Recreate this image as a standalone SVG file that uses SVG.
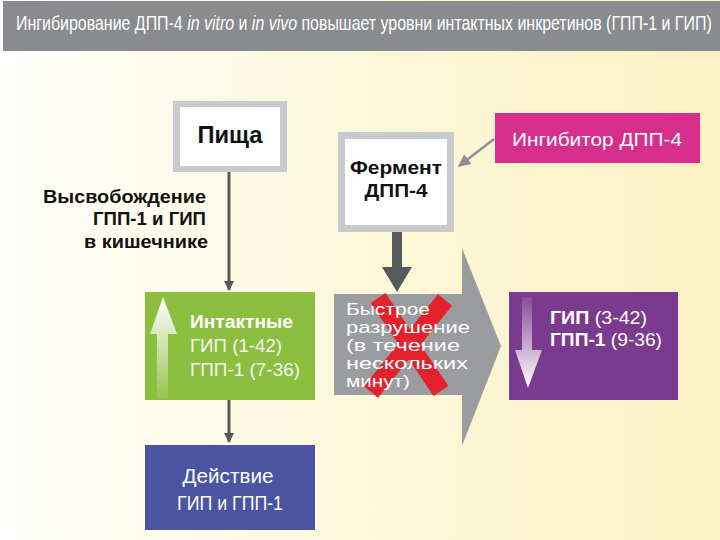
<svg xmlns="http://www.w3.org/2000/svg" width="720" height="540" viewBox="0 0 720 540">
<defs>
<linearGradient id="bg" x1="0" y1="0" x2="1" y2="0">
<stop offset="0" stop-color="#ffffff"/>
<stop offset="0.06" stop-color="#fffef6"/>
<stop offset="0.5" stop-color="#fdf8dc"/>
<stop offset="1" stop-color="#fbf1c2"/>
</linearGradient>
<linearGradient id="upg" x1="0" y1="0" x2="0" y2="1">
<stop offset="0" stop-color="#ffffff" stop-opacity="1"/>
<stop offset="1" stop-color="#ffffff" stop-opacity="0.1"/>
</linearGradient>
<linearGradient id="dng" x1="0" y1="0" x2="0" y2="1">
<stop offset="0" stop-color="#ffffff" stop-opacity="0.1"/>
<stop offset="1" stop-color="#ffffff" stop-opacity="1"/>
</linearGradient>
<marker id="ah" viewBox="0 0 10 10" refX="9" refY="5" markerWidth="3.5" markerHeight="3.5" orient="auto">
<path d="M0,0 L10,5 L0,10 z" fill="#58595b"/>
</marker>
<marker id="ahg" viewBox="0 0 10 10" refX="9" refY="5" markerWidth="5" markerHeight="5" orient="auto">
<path d="M0,0 L10,5 L0,10 z" fill="#8f9094"/>
</marker>
</defs>
<style>
text{font-family:"Liberation Sans",Arial,sans-serif}
.b{font-weight:bold}
.i{font-style:italic}
.w{fill:#ffffff}
.k{fill:#111111}
.lw{fill:#f4f4f4}
.frame{fill:#c9cacd}
.inner{fill:#ffffff}
.h{font-size:20px;fill:#ffffff}
</style>
<rect x="0" y="0" width="720" height="540" fill="url(#bg)"/>
<g id="header">
<rect x="3" y="1" width="717" height="50" fill="#898b8e"/>
<g transform="translate(16 30) scale(0.797 1)">
<text x="0" y="0" class="h">Ингибирование ДПП-4 <tspan class="i">in vitro</tspan> и <tspan class="i">in vivo</tspan> повышает уровни интактных инкретинов (ГПП-1 и ГИП)</text>
</g>
</g>
<g id="connectors">
<line x1="229" y1="171" x2="229" y2="290" stroke="#58595b" stroke-width="3" marker-end="url(#ah)"/>
<line x1="229" y1="400" x2="229" y2="442" stroke="#58595b" stroke-width="3" marker-end="url(#ah)"/>
<line x1="494" y1="139" x2="459" y2="166" stroke="#8f9094" stroke-width="2.5" marker-end="url(#ahg)"/>
<path d="M392,232 H402 V267 H412 L397,292 L382,267 H392 Z" fill="#58595b"/>
</g>
<g id="release-label">
<text x="206" y="203" font-size="18" class="b k" text-anchor="end" textLength="163" lengthAdjust="spacingAndGlyphs">Высвобождение</text>
<text x="206" y="225" font-size="18" class="b k" text-anchor="end" textLength="113" lengthAdjust="spacingAndGlyphs">ГПП-1 и ГИП</text>
<text x="208" y="248" font-size="18" class="b k" text-anchor="end" textLength="124" lengthAdjust="spacingAndGlyphs">в кишечнике</text>
</g>
<g id="food">
<rect x="173" y="101" width="114" height="71" class="frame"/>
<rect x="180" y="107" width="100" height="59" class="inner"/>
<text x="230" y="143" font-size="23" class="b k" text-anchor="middle" textLength="65" lengthAdjust="spacingAndGlyphs">Пища</text>
</g>
<g id="enzyme">
<rect x="338" y="132" width="116" height="100" class="frame"/>
<rect x="345" y="139" width="102" height="86" class="inner"/>
<text x="396" y="174" font-size="19" class="b k" text-anchor="middle" textLength="92" lengthAdjust="spacingAndGlyphs">Фермент</text>
<text x="396" y="197" font-size="19" class="b k" text-anchor="middle" textLength="63" lengthAdjust="spacingAndGlyphs">ДПП-4</text>
</g>
<g id="inhibitor">
<rect x="495" y="113" width="205" height="50" fill="#d52f8b"/>
<text x="597" y="146" font-size="19" class="w" text-anchor="middle" textLength="170" lengthAdjust="spacingAndGlyphs">Ингибитор ДПП-4</text>
</g>
<g id="degradation">
<path d="M334,294 H462 V248 L501,346 L462,446 V395 H334 Z" fill="#9b9ca0"/>
<line x1="378" y1="298" x2="441" y2="391" stroke="#e3222b" stroke-width="18"/>
<line x1="445" y1="300" x2="371" y2="392" stroke="#e3222b" stroke-width="18"/>
<text x="346" y="315" font-size="17" class="w" textLength="84" lengthAdjust="spacingAndGlyphs">Быстрое</text>
<text x="346" y="333" font-size="17" class="w" textLength="124" lengthAdjust="spacingAndGlyphs">разрушение</text>
<text x="346" y="351" font-size="17" class="w" textLength="114" lengthAdjust="spacingAndGlyphs">(в течение</text>
<text x="346" y="369" font-size="17" class="w" textLength="122" lengthAdjust="spacingAndGlyphs">нескольких</text>
<text x="346" y="387" font-size="17" class="w" textLength="64" lengthAdjust="spacingAndGlyphs">минут)</text>
</g>
<g id="intact">
<rect x="145" y="292" width="170" height="108" fill="#8cbe3f"/>
<path d="M157,333 H168 V398 H157 Z M150,334 L163,297 L177,334 Z" fill="url(#upg)"/>
<text x="190" y="328" font-size="18" class="b w" textLength="103" lengthAdjust="spacingAndGlyphs">Интактные</text>
<text x="190" y="352" font-size="19" class="lw" textLength="92" lengthAdjust="spacingAndGlyphs">ГИП (1-42)</text>
<text x="190" y="376" font-size="19" class="lw" textLength="110" lengthAdjust="spacingAndGlyphs">ГПП-1 (7-36)</text>
</g>
<g id="action">
<rect x="145" y="445" width="170" height="85" fill="#4a54a1"/>
<text x="228" y="483" font-size="20" class="w" text-anchor="middle" textLength="91" lengthAdjust="spacingAndGlyphs">Действие</text>
<text x="230" y="510" font-size="20" class="w" text-anchor="middle" textLength="106" lengthAdjust="spacingAndGlyphs">ГИП и ГПП-1</text>
</g>
<g id="degraded">
<rect x="509" y="292" width="169" height="108" fill="#7a3a8d"/>
<path d="M522,297 H532 V350 H522 Z M515,350 H542 L528,388 Z" fill="url(#dng)"/>
<text x="550" y="324" font-size="19" class="w" textLength="97" lengthAdjust="spacingAndGlyphs"><tspan class="b">ГИП</tspan> (3-42)</text>
<text x="550" y="346" font-size="19" class="w" textLength="112" lengthAdjust="spacingAndGlyphs"><tspan class="b">ГПП-1</tspan> (9-36)</text>
</g>
</svg>
